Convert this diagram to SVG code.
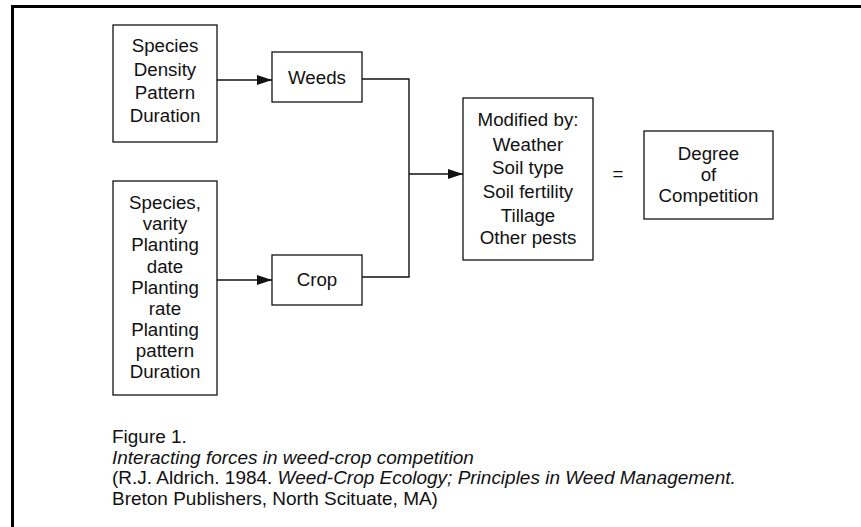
<svg xmlns="http://www.w3.org/2000/svg" width="861" height="527" viewBox="0 0 861 527">
<defs>
<style>
.box{fill:#fff;stroke:#111;stroke-width:1.3}
.t{font-family:"Liberation Sans",Arial,sans-serif;font-size:17.5px;fill:#111;text-anchor:middle}
.c{font-family:"Liberation Sans",Arial,sans-serif;font-size:17.5px;fill:#111}
.ln{fill:none;stroke:#111;stroke-width:1.4}
</style>
<marker id="ah" markerWidth="15" markerHeight="10" refX="15" refY="5" orient="auto" markerUnits="userSpaceOnUse">
<path d="M0,0 L15,5 L0,10 Z" fill="#111"/>
</marker>
</defs>
<rect x="0" y="0" width="861" height="527" fill="#fff"/>
<g id="frame">
<line x1="12.5" y1="6.5" x2="861" y2="6.5" stroke="#000" stroke-width="3"/>
<line x1="12.5" y1="5" x2="12.5" y2="527" stroke="#000" stroke-width="3"/>
</g>
<g id="connectors">
<line class="ln" x1="217" y1="80" x2="272" y2="80" marker-end="url(#ah)"/>
<line class="ln" x1="217" y1="280" x2="272" y2="280" marker-end="url(#ah)"/>
<polyline class="ln" points="362,79 409,79 409,277 362,277"/>
<line class="ln" x1="409" y1="174" x2="463" y2="174" marker-end="url(#ah)"/>
</g>
<g id="weed-factors">
<rect class="box" x="113" y="25" width="104" height="117"/>
<g transform="matrix(1.07 0 0 1 -11.55 0)">
<text class="t" x="165" y="52.5">Species</text>
<text class="t" x="165" y="76">Density</text>
<text class="t" x="165" y="99">Pattern</text>
<text class="t" x="165" y="122">Duration</text>
</g>
</g>
<g id="crop-factors">
<rect class="box" x="113" y="181" width="104" height="214"/>
<g transform="matrix(1.07 0 0 1 -11.55 0)">
<text class="t" x="165" y="209">Species,</text>
<text class="t" x="165" y="230">varity</text>
<text class="t" x="165" y="251.5">Planting</text>
<text class="t" x="165" y="273">date</text>
<text class="t" x="165" y="294">Planting</text>
<text class="t" x="165" y="315">rate</text>
<text class="t" x="165" y="336">Planting</text>
<text class="t" x="165" y="357">pattern</text>
<text class="t" x="165" y="378">Duration</text>
</g>
</g>
<g id="weeds">
<rect class="box" x="272" y="52" width="90" height="50"/>
<text class="t" x="317" y="84.3" transform="matrix(1.07 0 0 1 -22.19 0)">Weeds</text>
</g>
<g id="crop">
<rect class="box" x="272" y="255" width="90" height="50"/>
<text class="t" x="317" y="286" transform="matrix(1.07 0 0 1 -22.19 0)">Crop</text>
</g>
<g id="modifiers">
<rect class="box" x="463" y="98" width="130" height="162"/>
<g transform="matrix(1.07 0 0 1 -36.96 0)">
<text class="t" x="528" y="126">Modified by:</text>
<text class="t" x="528" y="150.7">Weather</text>
<text class="t" x="528" y="174.3">Soil type</text>
<text class="t" x="528" y="198.3">Soil fertility</text>
<text class="t" x="528" y="221.7">Tillage</text>
<text class="t" x="528" y="244.3">Other pests</text>
</g>
</g>
<g id="equals">
<text class="t" x="618" y="180" transform="matrix(1.07 0 0 1 -43.26 0)">=</text>
</g>
<g id="degree">
<rect class="box" x="644" y="131" width="129" height="88"/>
<g transform="matrix(1.07 0 0 1 -49.6 0)">
<text class="t" x="708.5" y="160">Degree</text>
<text class="t" x="708.5" y="180.7">of</text>
<text class="t" x="708.5" y="201.7">Competition</text>
</g>
</g>
<g id="caption" transform="matrix(1.085 0 0 1 -9.52 0)">
<text class="c" x="112" y="443.3">Figure 1.</text>
<text class="c" x="112" y="464" font-style="italic">Interacting forces in weed-crop competition</text>
<text class="c" x="112" y="484.5">(R.J. Aldrich. 1984. <tspan font-style="italic">Weed-Crop Ecology; Principles in Weed Management.</tspan></text>
<text class="c" x="112" y="505">Breton Publishers, North Scituate, MA)</text>
</g>
</svg>
